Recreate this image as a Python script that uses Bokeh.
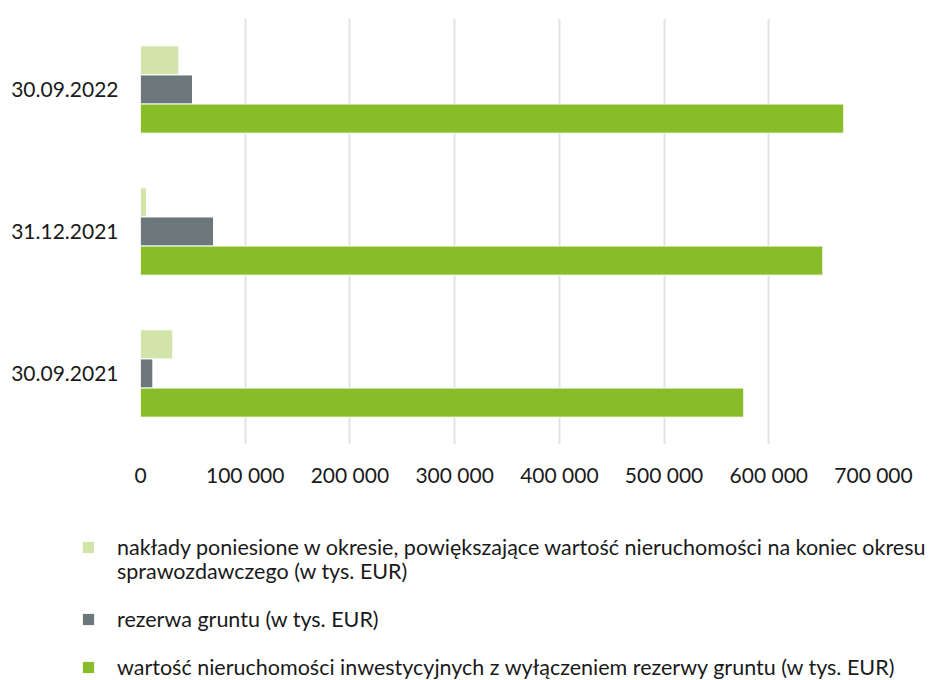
from bokeh.plotting import figure
from bokeh.models import FactorRange, FixedTicker, Legend, LegendItem, Range1d
from bokeh.layouts import column, row
from bokeh.transform import dodge
from bokeh.embed import file_html
from bokeh.resources import INLINE

categories = ["30.09.2021", "31.12.2021", "30.09.2022"]
naklady = [30900, 5700, 36600]
rezerwa = [11800, 69700, 49700]
wartosc = [576100, 651600, 671600]
x_ticks = [0, 100000, 200000, 300000, 400000, 500000, 600000, 700000]
x_tick_labels = ["0", "100 000", "200 000", "300 000", "400 000", "500 000", "600 000", "700 000"]
# first series name is wrapped over two lines in the legend
series_name_1a = "nakłady poniesione w okresie, powiększające wartość nieruchomości na koniec okresu"
series_name_1b = "sprawozdawczego (w tys. EUR)"
series_name_2 = "rezerwa gruntu (w tys. EUR)"
series_name_3 = "wartość nieruchomości inwestycyjnych z wyłączeniem rezerwy gruntu (w tys. EUR)"
series_fields = ["naklady", "rezerwa", "wartosc"]
colors = ["#d2e4aa", "#6b777b", "#88bc28"]

FONT = "Lato"

data = dict(cat=categories, naklady=naklady, rezerwa=rezerwa, wartosc=wartosc)

p = figure(
    y_range=FactorRange(factors=categories),
    x_range=(0, 700000),
    frame_width=733,
    frame_height=426,
    min_border_left=140,
    min_border_right=43,
    min_border_top=18,
    min_border_bottom=52,
    output_backend="svg",
    toolbar_location=None,
)

bh = 0.205
offsets = [bh, 0, -bh]
for f, off, c in zip(series_fields, offsets, colors):
    p.hbar(y=dodge("cat", off, range=p.y_range), right=f, left=0, height=bh,
           source=data, fill_color=c, line_color="white", line_width=1)

p.outline_line_color = None
p.ygrid.grid_line_color = None
p.xgrid.grid_line_color = "#e3e3e3"
p.xgrid.grid_line_width = 2
p.xaxis.ticker = FixedTicker(ticks=x_ticks)
p.xaxis.major_label_overrides = {t: l for t, l in zip(x_ticks, x_tick_labels)}

for ax in (p.xaxis[0], p.yaxis[0]):
    ax.axis_line_color = None
    ax.major_tick_line_color = None
    ax.minor_tick_line_color = None
    ax.major_label_text_font = FONT
    ax.major_label_text_font_size = "21px"
    ax.major_label_text_color = "#1a1a1a"
p.xaxis.major_label_standoff = 11
p.yaxis.major_label_standoff = 16

# Legend panel (separate figure beneath the chart); its bars fall outside its view
lg = figure(
    width=932, height=184,
    x_range=Range1d(-2, -1), y_range=FactorRange(factors=categories),
    x_axis_type=None, y_axis_type=None,
    min_border=0, min_border_left=0, min_border_right=0,
    min_border_top=0, min_border_bottom=0,
    output_backend="svg",
    toolbar_location=None,
)
lg.outline_line_color = None
lg.grid.visible = False
renderers = [lg.hbar(y=dodge("cat", off, range=lg.y_range), right=f, left=0, height=bh,
                     source=data, fill_color=c, line_color=None)
             for f, off, c in zip(series_fields, offsets, colors)]
# continuation line of the first legend entry (no swatch)
r_cont = lg.hbar(y=dodge("cat", 0, range=lg.y_range), right="naklady", left=0, height=bh,
                 source=data, fill_alpha=0, line_color=None)

common = dict(
    orientation="vertical",
    glyph_width=14,
    glyph_height=14,
    label_standoff=22,
    label_text_font=FONT,
    label_text_font_size="21.5px",
    label_text_color="#1a1a1a",
    spacing=22,
    padding=0,
    margin=0,
    border_line_color=None,
    background_fill_alpha=0,
)
legend_a = Legend(items=[LegendItem(label=series_name_1a, renderers=[renderers[0]])],
                  location=(81, 120), **common)
legend_b = Legend(items=[LegendItem(label=series_name_1b, renderers=[r_cont]),
                         LegendItem(label=series_name_2, renderers=[renderers[1]]),
                         LegendItem(label=series_name_3, renderers=[renderers[2]])],
                  location=(81, 0), **common)
lg.add_layout(legend_a, "center")
lg.add_layout(legend_b, "center")

layout = column(p, row(lg), spacing=0)
open("out.html", "w").write(file_html(layout, INLINE))
